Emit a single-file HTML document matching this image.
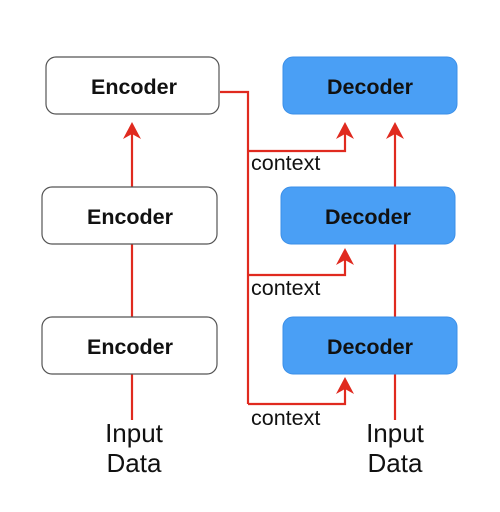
<!DOCTYPE html>
<html><head><style>
body{margin:0;background:#fff;width:500px;height:507px;overflow:hidden}
</style></head><body>
<svg width="500" height="507" xmlns="http://www.w3.org/2000/svg" font-family="Liberation Sans, Helvetica, Arial, sans-serif">
<g stroke="#e02a1f" stroke-width="2.2" fill="none">
<polyline points="220,92 248,92 248,404"/>
<polyline points="248,151 345,151 345,128"/>
<polyline points="248,275 345,275 345,254"/>
<polyline points="248,404 345,404 345,383"/>
<line x1="132" y1="187" x2="132" y2="128"/>
<line x1="132" y1="317" x2="132" y2="244"/>
<line x1="132" y1="420" x2="132" y2="374"/>
<line x1="395" y1="187" x2="395" y2="128"/>
<line x1="395" y1="317" x2="395" y2="243"/>
<line x1="395" y1="420" x2="395" y2="374"/>
</g>
<g fill="#e02a1f">
<polygon points="132,122 123,139 132,134 141,139"/>
<polygon points="345,122 336,139 345,134 354,139"/>
<polygon points="395,122 386,139 395,134 404,139"/>
<polygon points="345,248 336,265 345,260 354,265"/>
<polygon points="345,377 336,394 345,389 354,394"/>
</g>
<g fill="#fff" stroke="#555" stroke-width="1.2">
<rect x="46" y="57" width="173" height="57" rx="10"/>
<rect x="42" y="187" width="175" height="57" rx="10"/>
<rect x="42" y="317" width="175" height="57" rx="10"/>
</g>
<g fill="#4a9ff5" stroke="#3b8fe8" stroke-width="1">
<rect x="283" y="57" width="174" height="57" rx="10"/>
<rect x="281" y="187" width="174" height="57" rx="10"/>
<rect x="283" y="317" width="174" height="57" rx="10"/>
</g>
<g font-size="21.5" font-weight="bold" text-anchor="middle" fill="#111">
<text x="134" y="94">Encoder</text>
<text x="130" y="224">Encoder</text>
<text x="130" y="354">Encoder</text>
<text x="370" y="94">Decoder</text>
<text x="368" y="224">Decoder</text>
<text x="370" y="354">Decoder</text>
</g>
<g font-size="21.5" fill="#111">
<text x="251" y="170">context</text>
<text x="251" y="295">context</text>
<text x="251" y="425">context</text>
</g>
<g font-size="26" fill="#111" text-anchor="middle">
<text x="134" y="442">Input</text>
<text x="134" y="472">Data</text>
<text x="395" y="442">Input</text>
<text x="395" y="472">Data</text>
</g>
</svg>
</body></html>
